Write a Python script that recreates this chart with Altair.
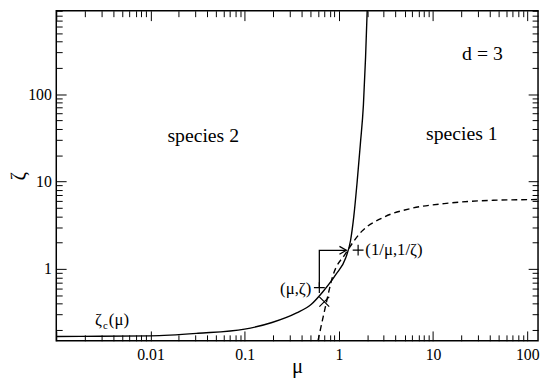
import altair as alt
import pandas as pd

# ---- data ----
solid_mu = [0.001, 0.0029, 0.01, 0.032, 0.1, 0.195, 0.356, 0.51, 0.676, 0.93,
            1.18, 1.33, 1.44, 1.56, 1.69, 1.82, 1.92, 2.0]
solid_zeta = [0.168, 0.169, 0.171, 0.183, 0.204, 0.243, 0.313, 0.393, 0.547, 0.864,
              1.33, 2.11, 3.98, 9.7, 26.8, 74.3, 265, 946]

dash_mu = [0.60, 0.714, 0.86, 1.18, 1.77, 2.86, 5.88, 13.1, 43.5, 131]
dash_zeta = [0.15, 0.355, 0.822, 1.50, 2.72, 3.81, 4.92, 5.58, 6.09, 6.21]

arrow_mu = [0.62, 0.62, 1.2]
arrow_zeta = [0.61, 1.63, 1.63]
arrow_order = [0, 1, 2]

plus_mu = [0.62, 1.6]
plus_zeta = [0.61, 1.64]
cross_mu = [0.70]
cross_zeta = [0.42]

x_labels = [0.01, 0.1, 1, 10, 100]
x_major = [0.001, 0.01, 0.1, 1, 10, 100]
x_minor = [0.002, 0.003, 0.004, 0.005, 0.006, 0.007, 0.008, 0.009,
           0.02, 0.03, 0.04, 0.05, 0.06, 0.07, 0.08, 0.09,
           0.2, 0.3, 0.4, 0.5, 0.6, 0.7, 0.8, 0.9,
           2, 3, 4, 5, 6, 7, 8, 9,
           20, 30, 40, 50, 60, 70, 80, 90]
y_labels = [1, 10, 100]
y_major = [1, 10, 100]
y_minor = [0.2, 0.3, 0.4, 0.5, 0.6, 0.7, 0.8, 0.9,
           2, 3, 4, 5, 6, 7, 8, 9,
           20, 30, 40, 50, 60, 70, 80, 90,
           200, 300, 400, 500, 600, 700, 800, 900]

texts_center = ["species 2", "species 1", "d = 3"]
texts_center_mu = [0.0363, 20.2, 33.4]
texts_center_zeta = [28.2, 29.7, 244]

# ---- layout ----
W, H = 489, 335
FONT = "Liberation Serif"
MAJ, MIN = 10, 6

XS = alt.Scale(type="log", domain=[0.001, 130], nice=False)
YS = alt.Scale(type="log", domain=[0.15, 900], nice=False)


def tick_axis(orient, offset, values, size):
    return alt.Axis(orient=orient, offset=offset, values=values, labels=False,
                    domain=False, grid=False, ticks=True, tickSize=size,
                    tickWidth=1, tickColor="black", title=None)


x_lab_axis = alt.Axis(orient="bottom", values=x_labels, format="~g", ticks=False,
                      tickSize=0, domain=False, grid=False, labelFont=FONT,
                      labelFontSize=16, labelColor="black", labelPadding=6,
                      title="μ", titleFont=FONT, titleFontSize=21,
                      titleFontWeight="normal", titleColor="black",
                      titleX=W / 2, titleY=32, titleBaseline="alphabetic")
y_lab_axis = alt.Axis(orient="left", values=y_labels, format="~g", ticks=False,
                      tickSize=0, domain=False, grid=False, labelFont=FONT,
                      labelFontSize=16, labelColor="black", labelPadding=5,
                      title="ζ", titleFont=FONT, titleFontSize=21,
                      titleFontWeight="normal", titleColor="black",
                      titleX=-38, titleY=H / 2, titleBaseline="middle",
                      titleAngle=270)

solid_df = pd.DataFrame({"mu": solid_mu, "zeta": solid_zeta})
dash_df = pd.DataFrame({"mu": dash_mu, "zeta": dash_zeta})
arrow_df = pd.DataFrame({"mu": arrow_mu, "zeta": arrow_zeta, "o": arrow_order})
plus_df = pd.DataFrame({"mu": plus_mu, "zeta": plus_zeta})
cross_df = pd.DataFrame({"mu": cross_mu, "zeta": cross_zeta})
head_df = pd.DataFrame({"mu": arrow_mu[-1:], "zeta": arrow_zeta[-1:]})
tc_df = pd.DataFrame({"t": texts_center, "mu": texts_center_mu, "zeta": texts_center_zeta})

solid = alt.Chart(solid_df).mark_line(color="black", strokeWidth=1.4, clip=True,
                                      interpolate="monotone").encode(
    x=alt.X("mu:Q", scale=XS, axis=x_lab_axis),
    y=alt.Y("zeta:Q", scale=YS, axis=y_lab_axis),
)

dashed = alt.Chart(dash_df).mark_line(color="black", strokeWidth=1.4,
                                      strokeDash=[6, 4], clip=True,
                                      interpolate="monotone").encode(
    x=alt.X("mu:Q", scale=XS, axis=tick_axis("top", -H, x_major, MAJ)),
    y=alt.Y("zeta:Q", scale=YS, axis=tick_axis("right", -W, y_major, MAJ)),
)

arrow = alt.Chart(arrow_df).mark_line(color="black", strokeWidth=1.3).encode(
    x=alt.X("mu:Q", scale=XS, axis=tick_axis("top", -H, x_minor, MIN)),
    y=alt.Y("zeta:Q", scale=YS, axis=tick_axis("right", -W, y_minor, MIN)),
    order="o:Q",
)

plus = alt.Chart(plus_df).mark_point(shape="M-1,0L1,0M0,-1L0,1", size=121,
                                     filled=False, color="black",
                                     strokeWidth=1.2, opacity=1).encode(
    x=alt.X("mu:Q", scale=XS, axis=tick_axis("bottom", -H, x_major, MAJ)),
    y=alt.Y("zeta:Q", scale=YS, axis=tick_axis("left", -W, y_major, MAJ)),
)

cross = alt.Chart(cross_df).mark_point(shape="M-1,-1L1,1M-1,1L1,-1", size=100,
                                       filled=False, color="black",
                                       strokeWidth=1.2, opacity=1).encode(
    x=alt.X("mu:Q", scale=XS, axis=tick_axis("bottom", -H, x_minor, MIN)),
    y=alt.Y("zeta:Q", scale=YS, axis=tick_axis("left", -W, y_minor, MIN)),
)

head = alt.Chart(head_df).mark_point(shape="M-1.75,-1L0,0L-1.75,1", size=64,
                                     filled=False, color="black",
                                     strokeWidth=1.3, opacity=1).encode(
    x=alt.X("mu:Q", scale=XS, axis=None),
    y=alt.Y("zeta:Q", scale=YS, axis=None),
)


def label(df, **kw):
    return alt.Chart(df).mark_text(font=FONT, color="black", **kw).encode(
        x=alt.X("mu:Q", scale=XS, axis=None),
        y=alt.Y("zeta:Q", scale=YS, axis=None),
        text="t:N",
    )


center_txt = label(tc_df, fontSize=20, align="center", baseline="alphabetic")
mz_txt = label(pd.DataFrame({"t": ["(μ,ζ)"], "mu": [0.51], "zeta": [0.58]}),
               fontSize=17, align="right", baseline="middle")
inv_txt = label(pd.DataFrame({"t": ["(1/μ,1/ζ)"], "mu": [1.91], "zeta": [1.63]}),
                fontSize=17, align="left", baseline="middle")
zc_df = pd.DataFrame({"t": ["ζ"], "mu": [0.00258], "zeta": [0.225]})
zc1 = label(zc_df, fontSize=17, align="left", baseline="alphabetic")
zc2 = label(zc_df.assign(t=["c"]), fontSize=11, align="left", baseline="alphabetic",
            dx=8, dy=4)
zc3 = label(zc_df.assign(t=["(μ)"]), fontSize=17, align="left", baseline="alphabetic",
            dx=14)

chart = alt.layer(
    solid, dashed, arrow, plus, cross, head, center_txt, mz_txt, inv_txt, zc1, zc2, zc3
).resolve_axis(x="independent", y="independent").properties(
    width=W, height=H,
    autosize=alt.AutoSizeParams(type="none"),
    padding={"left": 49, "top": 0, "right": 2, "bottom": 38},
).configure_view(stroke="black", strokeWidth=1.5)

chart.save("out.html", embed_options={"renderer": "svg", "actions": False})
